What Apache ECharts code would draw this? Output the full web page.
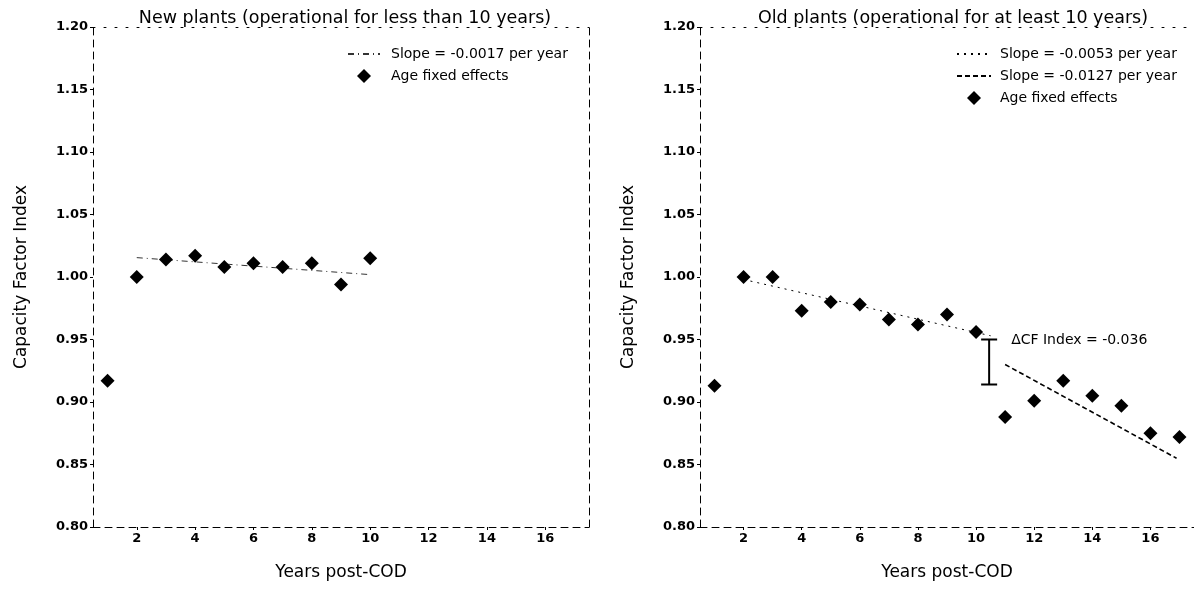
<!DOCTYPE html>
<html>
<head>
<meta charset="utf-8">
<script src="https://cdn.jsdelivr.net/npm/echarts@6/dist/echarts.min.js"></script>
<style>html,body{margin:0;padding:0;background:#fff}#c{width:1194px;height:599px}</style>
</head>
<body>
<div id="c"></div>
<script>
// ---------- data ----------
const newYears = [1, 2, 3, 4, 5, 6, 7, 8, 9, 10];
const newValues = [0.917, 1.000, 1.014, 1.017, 1.008, 1.011, 1.008, 1.011, 0.994, 1.015];
const newSlopeX = [2, 10];
const newSlopeY = [1.0155, 1.0019];

const oldYears = [1, 2, 3, 4, 5, 6, 7, 8, 9, 10, 11, 12, 13, 14, 15, 16, 17];
const oldValues = [0.913, 1.000, 1.000, 0.973, 0.980, 0.978, 0.966, 0.962, 0.970, 0.956,
                   0.888, 0.901, 0.917, 0.905, 0.897, 0.875, 0.872];
const oldSlope1X = [2, 10.5];
const oldSlope1Y = [0.998, 0.953];
const oldSlope2X = [11, 16.9];
const oldSlope2Y = [0.930, 0.855];

const gapX = [10.45];
const gapLow = [0.914];
const gapHigh = [0.950];
const gapLabel = 'ΔCF Index = -0.036';

const xTicks = [2, 4, 6, 8, 10, 12, 14, 16];
const yTicks = [0.80, 0.85, 0.90, 0.95, 1.00, 1.05, 1.10, 1.15, 1.20];

const titles = ['New plants (operational for less than 10 years)', 'Old plants (operational for at least 10 years)'];
const nameNewSlope = 'Slope = -0.0017 per year';
const nameOldSlope1 = 'Slope = -0.0053 per year';
const nameOldSlope2 = 'Slope = -0.0127 per year';
const nameAge = 'Age fixed effects';
const xName = 'Years post-COD';
const yName = 'Capacity Factor Index';

// ---------- styling ----------
const FONT = 'DejaVu Sans';
const frame = {show: true, lineStyle: {color: '#000', width: 1, type: [7, 5]}};
const zip = (a, b) => a.map((v, i) => [v, b[i]]);
const DIAMOND_ICON = 'path://M5,0 L10,5 L5,10 L0,5 Z';

function axesFor(gridIndex) {
  const xs = [{
    type: 'value', gridIndex, min: 0.5, max: 17.5, position: 'bottom',
    name: xName, nameLocation: 'middle', nameGap: 37,
    nameTextStyle: {fontFamily: FONT, fontSize: 17, color: '#000'},
    axisLine: frame, splitLine: {show: false},
    axisTick: {show: true, length: 3, inside: false, customValues: xTicks, lineStyle: {color: '#000'}},
    axisLabel: {customValues: xTicks, fontFamily: FONT, fontSize: 13, fontWeight: 'bold', color: '#000', margin: 5}
  }, {
    type: 'value', gridIndex, min: 0.5, max: 17.5, position: 'top',
    axisLine: {show: true, lineStyle: {color: '#000', width: 1, type: [2, 9]}},
    axisTick: {show: false}, axisLabel: {show: false}, splitLine: {show: false}
  }];
  const ys = [{
    type: 'value', gridIndex, min: 0.8, max: 1.2, position: 'left',
    name: yName, nameLocation: 'middle', nameGap: 63, nameRotate: 90,
    nameTextStyle: {fontFamily: FONT, fontSize: 17, color: '#000'},
    axisLine: frame, splitLine: {show: false},
    axisTick: {show: true, length: 3, customValues: yTicks, lineStyle: {color: '#000'}},
    axisLabel: {customValues: yTicks, fontFamily: FONT, fontSize: 13, fontWeight: 'bold', color: '#000', margin: 5,
                formatter: v => v.toFixed(2)}
  }, {
    type: 'value', gridIndex, min: 0.8, max: 1.2, position: 'right',
    axisLine: frame, axisTick: {show: false}, axisLabel: {show: false}, splitLine: {show: false}
  }];
  return {xs, ys};
}
const a0 = axesFor(0), a1 = axesFor(1);

const diamond = {symbol: 'diamond', symbolSize: 14, itemStyle: {color: '#000', opacity: 1}};
const lineItem = name => ({name, itemStyle: {opacity: 0}});
const ageItem = {name: nameAge, icon: DIAMOND_ICON, itemStyle: {color: '#000', opacity: 1}};

const option = {
  animation: false,
  backgroundColor: '#fff',
  textStyle: {fontFamily: FONT},
  title: [
    {text: titles[0], left: 340, top: 4, textAlign: 'center',
     textStyle: {fontFamily: FONT, fontSize: 17.5, fontWeight: 'normal', color: '#000'}},
    {text: titles[1], left: 948, top: 4, textAlign: 'center',
     textStyle: {fontFamily: FONT, fontSize: 17.5, fontWeight: 'normal', color: '#000'}}
  ],
  legend: [
    {data: [lineItem(nameNewSlope), ageItem], left: 342, top: 42, orient: 'vertical',
     itemWidth: 32, itemHeight: 14, itemGap: 8, symbolKeepAspect: true,
     textStyle: {fontFamily: FONT, fontSize: 14, color: '#000', padding: [0, 0, 0, 6]}},
    {data: [lineItem(nameOldSlope1), lineItem(nameOldSlope2), ageItem], left: 951, top: 42, orient: 'vertical',
     itemWidth: 34, itemHeight: 14, itemGap: 8, symbolKeepAspect: true,
     textStyle: {fontFamily: FONT, fontSize: 14, color: '#000', padding: [0, 0, 0, 4]}}
  ],
  grid: [
    {left: 93, top: 27, width: 496, height: 500, containLabel: false},
    {left: 700, top: 27, width: 497, height: 500, containLabel: false}
  ],
  xAxis: [...a0.xs, ...a1.xs],
  yAxis: [...a0.ys, ...a1.ys],
  series: [
    {name: nameNewSlope, type: 'line', xAxisIndex: 0, yAxisIndex: 0, data: zip(newSlopeX, newSlopeY),
     symbol: 'none', lineStyle: {color: '#000', width: 1, type: [6, 4, 1, 4], opacity: 0.8}, itemStyle: {color: '#000'}},
    {name: nameAge, type: 'scatter', xAxisIndex: 0, yAxisIndex: 0, data: zip(newYears, newValues), ...diamond},

    {name: nameOldSlope1, type: 'line', xAxisIndex: 2, yAxisIndex: 2, data: zip(oldSlope1X, oldSlope1Y),
     symbol: 'none', lineStyle: {color: '#000', width: 1, type: [2, 5]}, itemStyle: {color: '#000'}},
    {name: nameOldSlope2, type: 'line', xAxisIndex: 2, yAxisIndex: 2, data: zip(oldSlope2X, oldSlope2Y),
     symbol: 'none', lineStyle: {color: '#000', width: 1.6, type: [5, 3]}, itemStyle: {color: '#000'}},
    {name: nameAge, type: 'scatter', xAxisIndex: 2, yAxisIndex: 2, data: zip(oldYears, oldValues), ...diamond},
    {type: 'custom', xAxisIndex: 2, yAxisIndex: 2, silent: true,
     data: gapX.map((x, i) => [x, gapLow[i], gapHigh[i]]),
     renderItem: function (params, api) {
       const x = api.value(0);
       const lo = api.coord([x, api.value(1)]);
       const hi = api.coord([x, api.value(2)]);
       const cap = 8;
       const st = {stroke: '#000', lineWidth: 2};
       return {type: 'group', children: [
         {type: 'line', shape: {x1: lo[0], y1: lo[1], x2: hi[0], y2: hi[1]}, style: st},
         {type: 'line', shape: {x1: hi[0] - cap, y1: hi[1], x2: hi[0] + cap, y2: hi[1]}, style: st},
         {type: 'line', shape: {x1: lo[0] - cap, y1: lo[1], x2: lo[0] + cap, y2: lo[1]}, style: st},
         {type: 'text', style: {text: gapLabel, x: hi[0] + 22, y: hi[1] + 1, textVerticalAlign: 'middle',
           fontFamily: FONT, fontSize: 14, fill: '#000'}}
       ]};
     }}
  ]
};

const chart = echarts.init(document.getElementById('c'), null, {renderer: 'canvas'});
chart.setOption(option);
</script>
</body>
</html>
